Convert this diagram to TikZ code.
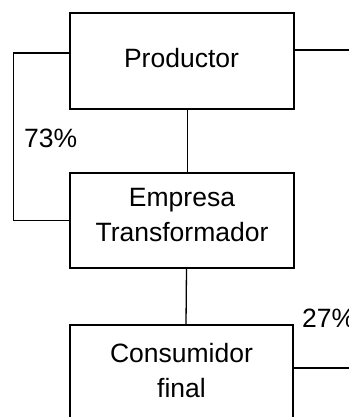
\documentclass[tikz,border=0pt]{standalone}
\usepackage{fontspec}
\setmainfont{Liberation Sans}
\begin{document}
\begin{tikzpicture}[x=1pt,y=-1pt,
  boxst/.style={draw, line width=1.3pt, rectangle, inner sep=0pt},
  txt/.style={font=\fontsize{26.5}{35}\selectfont, inner sep=0pt, align=center},
  conn/.style={line width=1.3pt}]
\useasboundingbox (0,0) rectangle (348,417);
% boxes
\node[boxst, minimum width=224pt, minimum height=96pt] (prod) at (182,61) {};
\node[boxst, minimum width=224pt, minimum height=95pt] (emp) at (182,220.5) {};
\node[boxst, minimum width=223pt, minimum height=110pt] (cons) at (181.5,380) {};
% texts
\node[txt, anchor=base] (prodt) at (181.5,68) {Productor};
\node[txt, anchor=center] (empt) at (182,215) {Empresa\\Transformador};
\node[txt, anchor=center] (const) at (181.5,371) {Consumidor\\final};
\node[txt, anchor=base west] (p73) at (24,147) {73\%};
\node[txt, anchor=base west] (p27) at (302,327) {27\%};
% free ends
\coordinate (r1) at (352,50);
\coordinate (r2) at (352,368);
% connectors
\draw[conn] ([xshift=5.5pt]prod.south) -- ([xshift=5.5pt]emp.north);
\draw[conn] ([xshift=4.5pt]emp.south) -- ([xshift=4.5pt]cons.north);
\draw[conn] ([yshift=8pt]prod.west) -- ++(-56,0) |- (emp.west);
\draw[conn] ([yshift=11pt]prod.east) -- (r1);
\draw[conn] ([yshift=12pt]cons.east) -- (r2);
\end{tikzpicture}
\end{document}
